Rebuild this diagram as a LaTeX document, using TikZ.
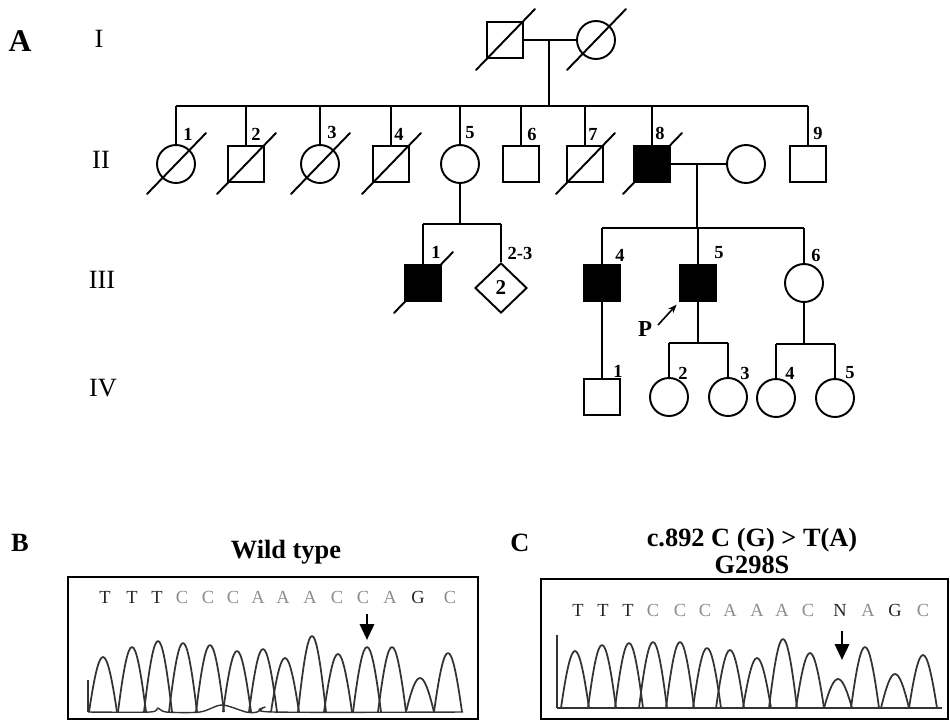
\documentclass[tikz,border=0pt]{standalone}
\usepackage{fontspec}
\setmainfont{Liberation Serif}
\usetikzlibrary{arrows.meta,calc,positioning,shapes.geometric}
\colorlet{basedark}{black!85}
\colorlet{baselight}{black!45}
\tikzset{
  male/.style={draw, rectangle, minimum size=0.72cm, inner sep=0pt, line width=1.1pt},
  female/.style={draw, circle, minimum size=0.76cm, inner sep=0pt, line width=1.1pt},
  unknown/.style={draw, diamond, minimum width=1.04cm, minimum height=1.0cm, inner sep=0pt,
    line width=1.1pt, font=\bfseries\fontsize{12}{12}\selectfont},
  affected/.style={fill=black},
  num/.style={font=\bfseries\fontsize{10.5}{10.5}\selectfont, inner sep=0pt},
  gen/.style={font=\fontsize{15}{15}\selectfont, inner sep=0pt},
  panel/.style={font=\bfseries\fontsize{18}{18}\selectfont, inner sep=0pt},
  title/.style={font=\bfseries\fontsize{15}{15}\selectfont, inner sep=0pt},
  base/.style={font=\fontsize{10.5}{10.5}\selectfont, inner sep=0pt},
}

\begin{document}
\begin{tikzpicture}[
  x=0.02cm, y=-0.02cm,
  line width=1.1pt,
  strike/.style={line width=1.1pt, line cap=round},
  trace/.style={line width=1pt, black!80, line join=round},
  mut/.style={-{Triangle[length=9pt,width=8pt]}, line width=1.6pt},
  parrow/.style={-{Stealth[length=5pt]}, line width=0.9pt},
]
  \useasboundingbox (0,0) rectangle (950,721);

  % Panel and generation labels
  \node[panel] (pa) at (20,41) {A};
  \node[gen] (g1) at (99,39) {I};
  \node[gen] (g2) at (101,160) {II};
  \node[gen] (g3) at (102,280) {III};
  \node[gen] (g4) at (103,388) {IV};

  % Generation I
  \node[male] (i1) at (505,40) {};
  \node[female] (i2) at (596,40) {};

  % Generation II
  \node[female] (ii1) at (176,164) {};
  \node[male] (ii2) at (246,164) {};
  \node[female] (ii3) at (320,164) {};
  \node[male] (ii4) at (391,164) {};
  \node[female] (ii5) at (460,164) {};
  \node[male] (ii6) at (521,164) {};
  \node[male] (ii7) at (585,164) {};
  \node[male, affected] (ii8) at (652,164) {};
  \node[female] (ii8w) at (746,164) {};
  \node[male] (ii9) at (808,164) {};

  % Generation III
  \node[male, affected] (iii1) at (423,283) {};
  \node[unknown] (iii2) at (501,288) {2};
  \node[male, affected] (iii4) at (602,283) {};
  \node[male, affected] (iii5) at (698,283) {};
  \node[female] (iii6) at (804,283) {};

  % Generation IV
  \node[male] (iv1) at (602,397) {};
  \node[female] (iv2) at (669,397) {};
  \node[female] (iv3) at (728,397) {};
  \node[female] (iv4) at (776,398) {};
  \node[female] (iv5) at (835,398) {};

  % Deceased
  \foreach \n in {i1,i2,ii1,ii2,ii3,ii4,ii7,ii8,iii1}
    \draw[strike] ([shift={(-29,30)}]\n.center) -- ([shift={(30,-31)}]\n.center);

  % Individual numbers
  \foreach \x/\y/\t [count=\k] in {188/134/1, 256/134/2, 332/132/3, 399/134/4, 470/133/5,
      532/134/6, 593/134/7, 660/133/8, 818/133/9, 436/252/1, 520/253/2-3, 620/255/4,
      719/253/5, 816/255/6, 618/371/1, 683/373/2, 745/373/3, 790/373/4, 850/373/5}
    \node[num] (lab\k) at (\x,\y) {\t};

  % Lines of descent
  \coordinate (c1) at (549,40);
  \coordinate (s1) at (549,106);
  \draw (i1) -- (i2);
  \draw (c1) -- (s1);
  \draw (ii1.north |- s1) -- (ii9.north |- s1);
  \foreach \n in {ii1,ii2,ii3,ii4,ii5,ii6,ii7,ii8,ii9}
    \draw (\n.north) -- (\n.north |- s1);

  \coordinate (s2) at (460,224);
  \draw (ii5.south) -- (s2);
  \draw (iii1.north |- s2) -- (iii2.north |- s2);
  \foreach \n in {iii1,iii2}
    \draw (\n.north) -- (\n.north |- s2);

  \coordinate (c2) at (697,164);
  \coordinate (s3) at (697,228);
  \draw (ii8) -- (ii8w);
  \draw (c2) -- (s3);
  \draw (iii4.north |- s3) -- (iii6.north |- s3);
  \foreach \n in {iii4,iii5,iii6}
    \draw (\n.north) -- (\n.north |- s3);

  \draw (iii4) -- (iv1);
  \coordinate (s4) at (698,343);
  \draw (iii5.south) -- (s4);
  \draw (iv2.north |- s4) -- (iv3.north |- s4);
  \coordinate (s5) at (804,344);
  \draw (iii6.south) -- (s5);
  \draw (iv4.north |- s5) -- (iv5.north |- s5);
  \foreach \n in {iv2,iv3}
    \draw (\n.north) -- (\n.north |- s4);
  \foreach \n in {iv4,iv5}
    \draw (\n.north) -- (\n.north |- s5);

  % Proband
  \node[font=\bfseries\fontsize{13}{13}\selectfont, inner sep=0pt] (pp) at (645,329) {P};
  \coordinate (pt) at (658,325);
  \draw[parrow, shorten >=2pt] (pt) -- (iii5.south west);

  % Panel B: wild type
  \node[panel, font=\bfseries\fontsize{15}{15}\selectfont] (pb) at (20,543) {B};
  \node[title] (wt) at (286,552) {Wild type};
  \draw[line width=1.2pt] (68,577) rectangle (478,719);
  \foreach \x/\c/\col [count=\k] in {105/T/basedark, 132/T/basedark, 157/T/basedark,
      182/C/baselight, 208/C/baselight, 233/C/baselight, 258/A/baselight, 283/A/baselight,
      310/A/baselight, 337/C/baselight, 363/C/baselight, 390/A/baselight, 418/G/basedark,
      450/C/baselight}
    \node[base, text=\col] (sb\k) at (\x,597) {\c};
  \coordinate (ab) at (367,640);
  \draw[mut] (sb11.south -| ab) ++(0,10) -- (ab);
  \draw[trace] (88,680) -- (88,712);
  \draw[trace, line width=0.8pt] plot[smooth] coordinates {(88,712) (150,712) (158,708)
    (166,712) (200,712) (222,705) (246,712) (257,712) (265,707) (273,712) (463,712)};
  \foreach \px/\py in {103/657, 132/647, 158/641, 183/643, 210/645, 237/651, 263/649,
      285/658, 312/636, 338/654, 367/647, 392/647, 420/678, 448/653}
    \draw[trace] ({\px-14},712) .. controls ({\px-3},{\py-(712-\py)/3})
      and ({\px+3},{\py-(712-\py)/3}) .. ({\px+14},712);

  % Panel C: mutant
  \node[panel, font=\bfseries\fontsize{15}{15}\selectfont] (pc) at (520,543) {C};
  \node[title] (mt1) at (752,540) {c.892 C (G) > T(A)};
  \node[title] (mt2) at (752,565) {G298S};
  \draw[line width=1.2pt] (541,579) rectangle (948,719);
  \foreach \x/\c/\col [count=\k] in {578/T/basedark, 603/T/basedark, 628/T/basedark,
      653/C/baselight, 680/C/baselight, 705/C/baselight, 730/A/baselight, 757/A/baselight,
      782/A/baselight, 808/C/baselight, 840/N/basedark, 868/A/baselight, 895/G/basedark,
      923/C/baselight}
    \node[base, text=\col] (sc\k) at (\x,610) {\c};
  \coordinate (ac) at (842,660);
  \draw[mut] (sc11.south -| ac) ++(0,14) -- (ac);
  \draw[trace] (557,635) -- (557,708);
  \draw[trace, line width=0.8pt] (557,708) -- (942,708);
  \foreach \px/\py in {575/651, 602/645, 629/643, 653/642, 680/642, 707/648, 730/650,
      757/658, 783/639, 810/653, 838/679, 865/647, 895/674, 923/655}
    \draw[trace] ({\px-14},708) .. controls ({\px-3},{\py-(708-\py)/3})
      and ({\px+3},{\py-(708-\py)/3}) .. ({\px+14},708);
\end{tikzpicture}
\end{document}
